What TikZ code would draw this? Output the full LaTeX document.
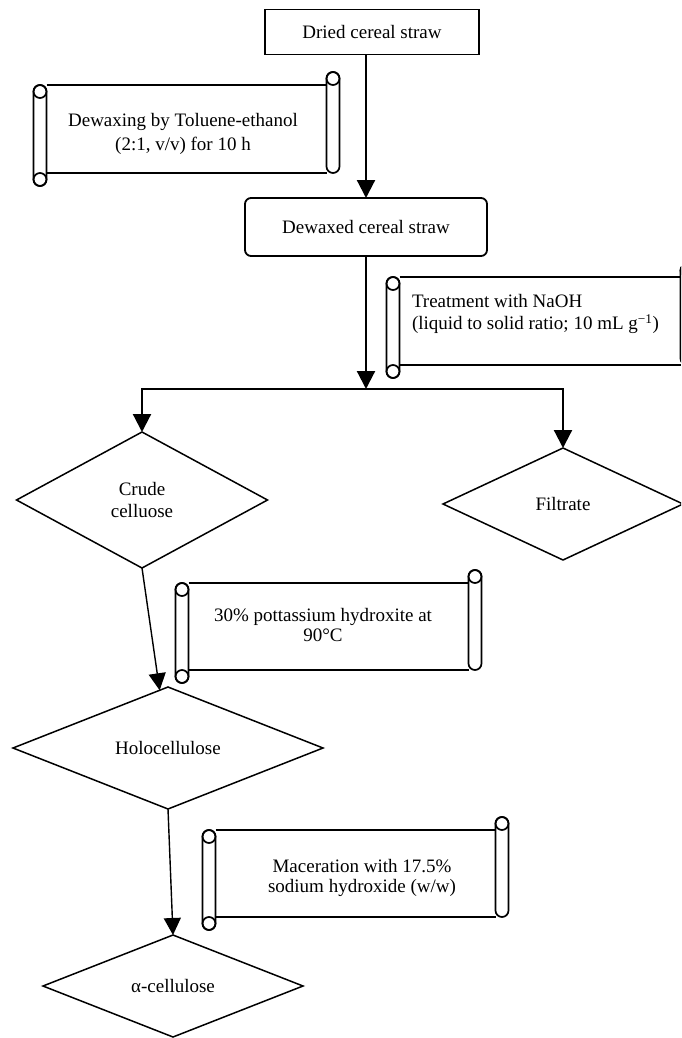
\documentclass[tikz,border=0pt]{standalone}
\usepackage{fontspec}
\setmainfont{Liberation Serif}
\usetikzlibrary{shapes.geometric,arrows.meta,calc}
\tikzset{
  every node/.style={inner sep=0pt, outer sep=0pt},
  txt/.style={font=\fontsize{19}{22}\selectfont, align=center},
  boxn/.style={draw, line width=1.8pt},
  dia/.style={draw, diamond, line width=1.5pt, font=\fontsize{19}{22}\selectfont, align=center},
  scrollbody/.style={inner sep=0pt},
  scrollline/.style={line width=1.7pt},
  arr/.style={line width=2.2pt, -{Triangle[width=18pt,length=18pt]}},
  arrs/.style={line width=1.4pt, -{Triangle[width=17pt,length=17pt]}},
}
\newcommand\scrolldraw[1]{%
  \draw[scrollline] ([xshift=6.5pt]#1.north west) -- ([xshift=-6.5pt]#1.north east);
  \draw[scrollline] ([xshift=6.5pt]#1.south west) -- ([xshift=-6.5pt]#1.south east);
  \draw[scrollline, fill=white, rounded corners=6.5pt] ([xshift=-6.5pt]#1.north west) rectangle ([xshift=6.5pt,yshift=-13pt]#1.south west);
  \draw[scrollline] ([yshift=-6.5pt]#1.north west) circle (6.5pt);
  \draw[scrollline] ([yshift=-6.5pt]#1.south west) circle (6.5pt);
  \draw[scrollline, fill=white, rounded corners=6.5pt] ([xshift=-6.5pt,yshift=13pt]#1.north east) rectangle ([xshift=6.5pt]#1.south east);
  \draw[scrollline] ([yshift=6.5pt]#1.north east) circle (6.5pt);
}
\begin{document}
\begin{tikzpicture}[x=1pt,y=-1pt]
\useasboundingbox (0,0) rectangle (681,1038);
\clip (0,0) rectangle (681,1038);

% boxes
\node[boxn, txt, minimum width=214pt, minimum height=45pt] (dried) at (372,32) {Dried cereal straw};
\node[boxn, txt, rounded corners=6pt, minimum width=242pt, minimum height=58pt] (dewaxed) at (366,227) {Dewaxed cereal straw};

% scrolls
\node[scrollbody, minimum width=293pt, minimum height=88pt] (s1) at (186.5,129) {};
\scrolldraw{s1}
\node[txt, font=\fontsize{19}{24}\selectfont] (t1) at (183,134) {Dewaxing by Toluene-ethanol\\(2:1, v/v) for 10 h};

\node[scrollbody, minimum width=294pt, minimum height=88pt] (s2) at (540,321) {};
\scrolldraw{s2}
\node[txt, align=left, anchor=west] (t2) at (412,314) {Treatment with NaOH\\(liquid to solid ratio; 10 mL g\textsuperscript{\char"2212 1})};

\node[scrollbody, minimum width=293pt, minimum height=87pt] (s3) at (328.5,626.5) {};
\scrolldraw{s3}
\node[txt, font=\fontsize{19}{20}\selectfont] (t3) at (323,625) {30\% pottassium hydroxite at\\90°C};

\node[scrollbody, minimum width=293pt, minimum height=87pt] (s4) at (355.5,873.5) {};
\scrolldraw{s4}
\node[txt, font=\fontsize{19}{20}\selectfont] (t4) at (362,878) {Maceration with 17.5\%\\sodium hydroxide (w/w)};

% diamonds
\node[dia, minimum width=251pt, minimum height=136pt] (crude) at (142,500) {Crude\\celluose};
\node[dia, minimum width=240pt, minimum height=112pt] (filtrate) at (563,504) {Filtrate};
\node[dia, minimum width=310pt, minimum height=122pt] (holo) at (168,748) {Holocellulose};
\node[dia, minimum width=260pt, minimum height=102pt] (alpha) at (173,986) {α-cellulose};

% connectors
\coordinate (j) at (366,389);
\draw[arr] (dewaxed.north |- dried.south) -- (dewaxed.north);
\draw[arr] (dewaxed.south) -- (j);
\draw[arr] (j) -| (crude.north);
\draw[arr] (j) -| (filtrate.north);
\draw[arrs] (crude.south) -- (holo);
\draw[arrs] (holo.south) -- (alpha.north);
\end{tikzpicture}
\end{document}
